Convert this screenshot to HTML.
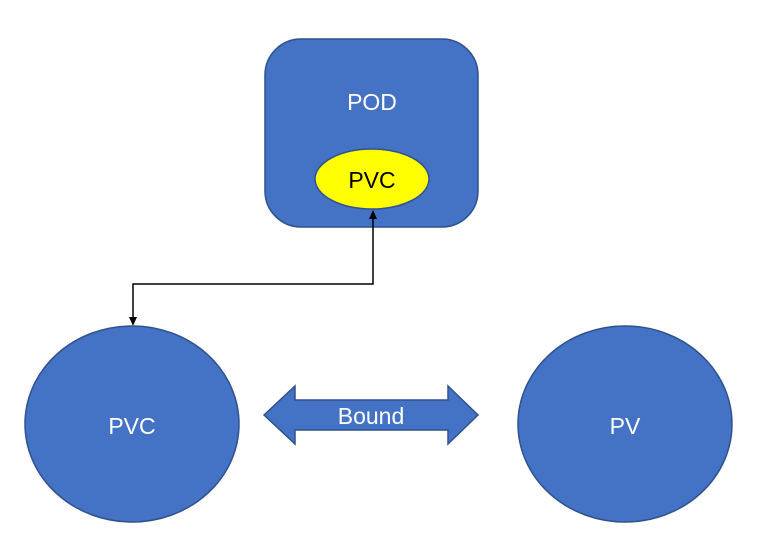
<!DOCTYPE html>
<html><head><meta charset="utf-8"><style>
html,body{margin:0;padding:0;background:#fff;width:763px;height:554px;overflow:hidden}
text{font-family:"Liberation Sans","DejaVu Sans",sans-serif}
</style></head><body>
<svg width="763" height="554" viewBox="0 0 763 554" xmlns="http://www.w3.org/2000/svg">
<rect x="265" y="39" width="213" height="188" rx="36" fill="#4472c4" stroke="#2f528f" stroke-width="1.5"/>
<text x="372" y="110" font-size="23" fill="#fff" text-anchor="middle">POD</text>
<ellipse cx="372" cy="179" rx="57" ry="30" fill="#ffff00" stroke="#2f528f" stroke-width="1.5"/>
<text x="372" y="188" font-size="23" fill="#000" text-anchor="middle">PVC</text>
<polyline points="373,218 373,284 133,284 133,318" fill="none" stroke="#000" stroke-width="1.5"/>
<polygon points="373,210 369,219 377,219" fill="#000"/>
<polygon points="133,326 129,317 137,317" fill="#000"/>
<ellipse cx="132" cy="424" rx="107" ry="98" fill="#4472c4" stroke="#2f528f" stroke-width="1.5"/>
<text x="132" y="434" font-size="23" fill="#fff" text-anchor="middle">PVC</text>
<ellipse cx="625" cy="424" rx="107" ry="98" fill="#4472c4" stroke="#2f528f" stroke-width="1.5"/>
<text x="625" y="434" font-size="23" fill="#fff" text-anchor="middle">PV</text>
<polygon points="264,415 295,386 295,400 448,400 448,386 478,415 448,444 448,430 295,430 295,444" fill="#4472c4" stroke="#2f528f" stroke-width="1.5"/>
<text x="371" y="424" font-size="23" fill="#fff" text-anchor="middle">Bound</text>
</svg>
</body></html>
